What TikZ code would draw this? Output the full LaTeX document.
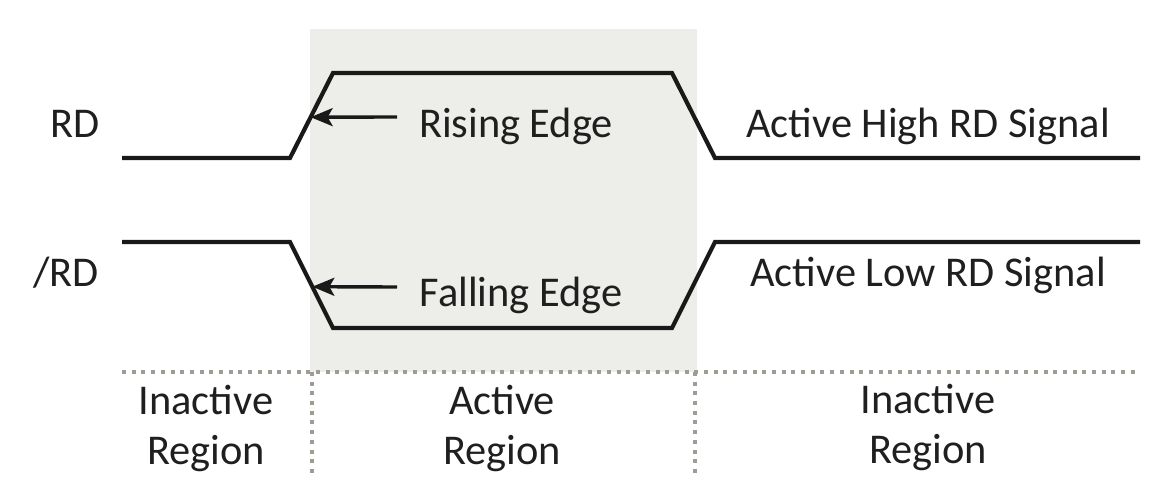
\documentclass[tikz,border=0pt]{standalone}
\usepackage{fontspec}
\setmainfont{Carlito}
\usepackage{xcolor}
\usetikzlibrary{arrows.meta,positioning,calc}

\definecolor{activebg}{RGB}{237,237,233}
\definecolor{divgray}{RGB}{160,155,148}

\begin{document}
\begin{tikzpicture}[
  x=0.5pt,y=-0.5pt,
  >=Stealth,
  font=\fontsize{21.2}{25.3}\selectfont,
  signal/.style={line width=2.1pt, line join=miter, black!90},
  pointer/.style={->, line width=1.7pt, black!90, >={Stealth[length=11pt,width=9pt,inset=2.5pt]}},
  divider/.style={draw=divgray, line width=2pt, dash pattern=on 2pt off 2.85pt},
  lbl/.style={anchor=base, inner sep=0pt, text=black!88},
  regionlbl/.style={lbl, align=center}
]
\useasboundingbox (0,0) rectangle (1174,502);

% shaded active region
\fill[activebg] (310,29) rectangle (697,372);

% RD waveform corners
\coordinate (rdA) at (122,158);
\coordinate (rdB) at (290,158);
\coordinate (rdC) at (333,73);
\coordinate (rdD) at (672,73);
\coordinate (rdE) at (715,158);
\coordinate (rdF) at (1140,158);
% /RD waveform corners
\coordinate (nrdA) at (122,242);
\coordinate (nrdB) at (290,242);
\coordinate (nrdC) at (333,328);
\coordinate (nrdD) at (672,328);
\coordinate (nrdE) at (715,242);
\coordinate (nrdF) at (1140,242);

\draw[signal] (rdA) -- (rdB) -- (rdC) -- (rdD) -- (rdE) -- (rdF);
\draw[signal] (nrdA) -- (nrdB) -- (nrdC) -- (nrdD) -- (nrdE) -- (nrdF);

% signal names and notes
\node[lbl] (rd) at (75,138) {RD};
\node[lbl] (nrd) at (66,287) {/RD};
\node[lbl] (rising) at (516,138) {Rising Edge};
\node[lbl] (falling) at (521,307) {Falling Edge};
\node[lbl] (high) at (928,138) {Active High RD Signal};
\node[lbl] (low) at (928,287) {Active Low RD Signal};

% edge pointers
\coordinate (riseTail) at (397,117);
\coordinate (riseTip) at ($(rdB)!0.48!(rdC)$);
\coordinate (fallTail) at (397,287);
\coordinate (fallTip) at ($(nrdB)!0.52!(nrdC)$);
\draw[pointer] (riseTail) -- (riseTip);
\draw[pointer] (fallTail) -- (fallTip);

% region dividers
\coordinate (divL) at (122,372);
\coordinate (divR) at (1140,372);
\coordinate (cutA) at (312,372);
\coordinate (cutB) at (695,372);
\draw[divider] (divL) -- (divR);
\draw[divider] (cutA) -- ++(0,105);
\draw[divider] (cutB) -- ++(0,105);

% region names
\node[regionlbl] (inactL) at (206,465) {Inactive\\Region};
\node[regionlbl] (act) at (502,465) {Active\\Region};
\node[regionlbl] (inactR) at (928,464) {Inactive\\Region};
\end{tikzpicture}
\end{document}
